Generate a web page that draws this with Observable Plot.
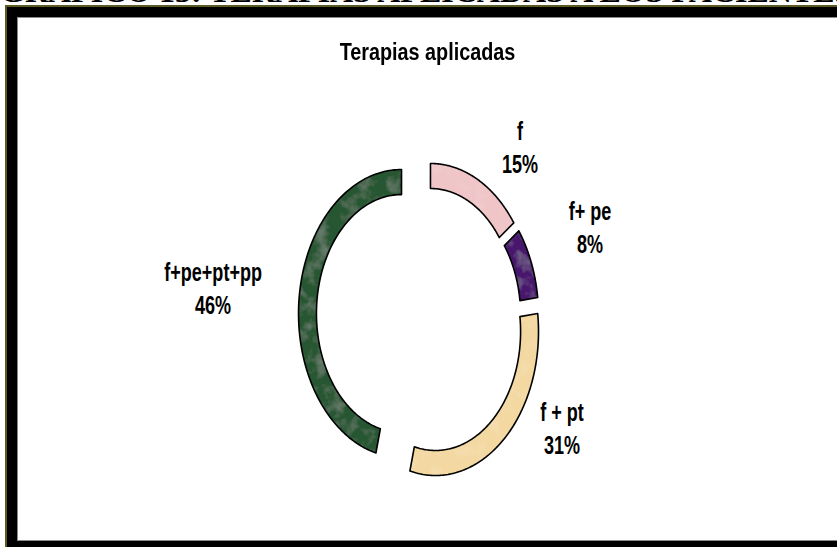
<!DOCTYPE html>
<html>
<head>
<meta charset="utf-8">
<script src="https://cdn.jsdelivr.net/npm/d3@7"></script>
<script src="https://cdn.jsdelivr.net/npm/@observablehq/plot@0.6"></script>
<style>
  html, body { margin: 0; padding: 0; background: #fff; }
  body { width: 837px; height: 547px; overflow: hidden; position: relative; }
  #caption { position: absolute; left: 0; top: -25px; font: bold 32px "Liberation Serif", "Times New Roman", serif; line-height: 32px; white-space: nowrap; color: #000; }
  #frame { position: absolute; left: 5px; top: 5px; width: 870px; height: 548px; box-sizing: border-box; border: 2px solid #5b5a23; background: #000; padding: 10px; }
  #inner { width: 100%; height: 100%; box-sizing: border-box; border: 1px solid #8a8a8a; background: #fff; }
  #title { position: absolute; left: 0; width: 855px; top: 41px; text-align: center; font: bold 22px "Liberation Sans", Arial, sans-serif; line-height: 22px; color: #000; transform: scale(0.9, 1.08); transform-origin: 427.5px 50%; }
  #chart { position: absolute; left: 0; top: 0; }
</style>
</head>
<body>
<div id="caption">GRÁFICO 13: TERAPIAS APLICADAS A LOS PACIENTES</div>
<div id="frame"><div id="inner"></div></div>
<div id="title">Terapias aplicadas</div>
<div id="chart"></div>
<script>
// ---- data ----
const categories = ["f", "f+ pe", "f + pt", "f+pe+pt+pp"];
const percents = [15, 8, 31, 46];
const colors = ["#efc5c7", "#4a156e", "#f3d8a1", "#285733"];

// ---- styling / layout constants ----
const R_OUT = 1, R_IN = 0.826;
// per-slice explosion (Excel "point explosion"), in ring-radius units
const explode = [[0.087, 0.021], [0.136, -0.035], [0.136, -0.146], [-0.194, -0.021]];
const labelRadius = 1.55;
const labelNudge = [[26, 34], [20, -2], [35, -51], [-50, 4]];

const pie = d3.pie().sort(null).value(d => d)(percents);

const ringPts = [];
pie.forEach((p, i) => {
  const [ox, oy] = explode[i];
  const cat = categories[i];
  const N = 120;
  const poly = [];
  for (let k = 0; k <= N; k++) {
    const a = p.startAngle + (p.endAngle - p.startAngle) * k / N;
    poly.push({cat, x: ox + R_OUT * Math.sin(a), y: oy + R_OUT * Math.cos(a)});
  }
  for (let k = N; k >= 0; k--) {
    const a = p.startAngle + (p.endAngle - p.startAngle) * k / N;
    poly.push({cat, x: ox + R_IN * Math.sin(a), y: oy + R_IN * Math.cos(a)});
  }
  poly.push({...poly[0]});
  ringPts.push(...poly);
});

const labels = pie.map((p, i) => {
  const m = (p.startAngle + p.endAngle) / 2;
  return {cat: categories[i], text: `${categories[i]}\n${percents[i]}%`,
          x: labelRadius * Math.sin(m), y: labelRadius * Math.cos(m)};
});

const chart = Plot.plot({
  width: 837,
  height: 547,
  margin: 0,
  style: {background: "transparent", overflow: "visible"},
  x: {domain: [-1, 1], range: [318, 524], axis: null},
  y: {domain: [-1, 1], range: [454, 166], axis: null},
  color: {domain: categories, range: colors},
  marks: [
    Plot.line(ringPts, {x: "x", y: "y", z: "cat", fill: "cat", stroke: "none", curve: "linear"}),
    Plot.line(ringPts, {x: "x", y: "y", z: "cat", stroke: "#000", strokeWidth: 1.6, fill: "none", curve: "linear"}),
    ...labels.map((d, i) => Plot.text([d], {
      x: "x", y: "y", text: "text",
      dx: labelNudge[i][0], dy: labelNudge[i][1],
      fontSize: 22, fontWeight: "bold", lineHeight: 1.25,
      fontFamily: "'Liberation Sans', Arial, sans-serif",
      fill: "#000", textAnchor: "middle"
    }))
  ]
});

// subtle texture filter for the fills
const svg = d3.select(chart);
svg.insert("defs", ":first-child").html(`
  <filter id="tex" x="0" y="0" width="1" height="1">
    <feTurbulence type="fractalNoise" baseFrequency="0.07" numOctaves="3" seed="4" result="n"/>
    <feColorMatrix in="n" type="matrix" values="0 0 0 0 1  0 0 0 0 1  0 0 0 0 1  0 0 0 -0.3 0.16" result="w"/>
    <feComposite in="w" in2="SourceGraphic" operator="atop"/>
  </filter>`);
const lineGroups = chart.querySelectorAll('g[aria-label="line"]');
if (lineGroups.length) lineGroups[0].setAttribute("filter", "url(#tex)");

// narrow, vertically stretched label glyphs, as in the reference
chart.querySelectorAll('g[aria-label="text"] text').forEach(t => {
  const tr = t.getAttribute("transform");
  if (tr) t.setAttribute("transform", tr + " scale(0.82,1.2)");
  else {
    const x = +t.getAttribute("x") || 0, y = +t.getAttribute("y") || 0;
    t.setAttribute("transform", `translate(${x},${y}) scale(0.82,1.2) translate(${-x},${-y})`);
  }
});

document.getElementById("chart").appendChild(chart);
</script>
</body>
</html>
